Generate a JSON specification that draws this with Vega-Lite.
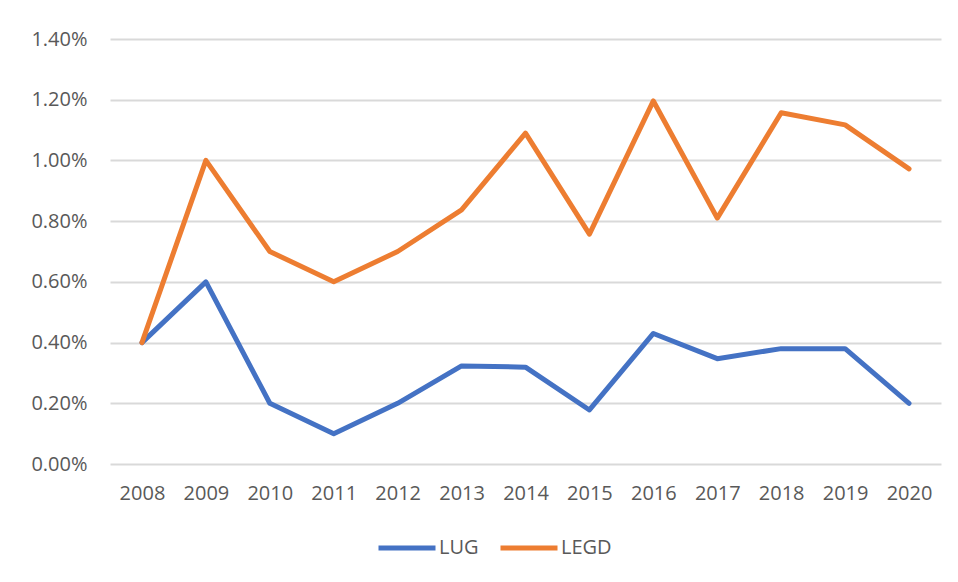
{
  "$schema": "https://vega.github.io/schema/vega-lite/v6.json",
  "autosize": {"type": "none"},
  "padding": {"left": 110, "top": 39, "right": 17, "bottom": 118},
  "width": 831,
  "height": 425,
  "background": "white",
  "config": {
    "view": {"stroke": null},
    "font": "Open Sans",
    "axis": {"labelFont": "Open Sans", "labelColor": "#595959", "labelFontSize": 20},
    "legend": {"labelFont": "Open Sans"}
  },
  "data": {
    "values": [
      {"year": "2008", "series": "LUG", "value": 0.0040},
      {"year": "2009", "series": "LUG", "value": 0.0060},
      {"year": "2010", "series": "LUG", "value": 0.0020},
      {"year": "2011", "series": "LUG", "value": 0.0010},
      {"year": "2012", "series": "LUG", "value": 0.0020},
      {"year": "2013", "series": "LUG", "value": 0.00323},
      {"year": "2014", "series": "LUG", "value": 0.00319},
      {"year": "2015", "series": "LUG", "value": 0.00178},
      {"year": "2016", "series": "LUG", "value": 0.0043},
      {"year": "2017", "series": "LUG", "value": 0.00347},
      {"year": "2018", "series": "LUG", "value": 0.0038},
      {"year": "2019", "series": "LUG", "value": 0.0038},
      {"year": "2020", "series": "LUG", "value": 0.0020},
      {"year": "2008", "series": "LEGD", "value": 0.0040},
      {"year": "2009", "series": "LEGD", "value": 0.0100},
      {"year": "2010", "series": "LEGD", "value": 0.0070},
      {"year": "2011", "series": "LEGD", "value": 0.0060},
      {"year": "2012", "series": "LEGD", "value": 0.0070},
      {"year": "2013", "series": "LEGD", "value": 0.00837},
      {"year": "2014", "series": "LEGD", "value": 0.0109},
      {"year": "2015", "series": "LEGD", "value": 0.00757},
      {"year": "2016", "series": "LEGD", "value": 0.01196},
      {"year": "2017", "series": "LEGD", "value": 0.0081},
      {"year": "2018", "series": "LEGD", "value": 0.01157},
      {"year": "2019", "series": "LEGD", "value": 0.01117},
      {"year": "2020", "series": "LEGD", "value": 0.00972}
    ]
  },
  "mark": {"type": "line", "strokeWidth": 5, "strokeCap": "round", "strokeJoin": "round"},
  "encoding": {
    "x": {
      "field": "year",
      "type": "ordinal",
      "scale": {"type": "point", "padding": 0.5},
      "axis": {
        "title": null,
        "labelAngle": 0,
        "ticks": false,
        "domain": false,
        "grid": false,
        "labelPadding": 19
      }
    },
    "y": {
      "field": "value",
      "type": "quantitative",
      "scale": {"domain": [0, 0.014], "nice": false},
      "axis": {
        "title": null,
        "format": ".2%",
        "values": [0, 0.002, 0.004, 0.006, 0.008, 0.010, 0.012, 0.014],
        "ticks": false,
        "domain": false,
        "grid": true,
        "gridColor": "#d9d9d9",
        "gridWidth": 2,
        "labelPadding": 23
      }
    },
    "color": {
      "field": "series",
      "type": "nominal",
      "scale": {"domain": ["LUG", "LEGD"], "range": ["#4472C4", "#ED7D31"]},
      "legend": {
        "title": null,
        "orient": "none",
        "direction": "horizontal",
        "legendX": 266,
        "legendY": 478,
        "symbolType": "stroke",
        "symbolSize": 3249,
        "symbolStrokeWidth": 5,
        "labelFontSize": 20,
        "labelColor": "#595959",
        "labelOffset": 1,
        "columnPadding": 11
      }
    }
  }
}
